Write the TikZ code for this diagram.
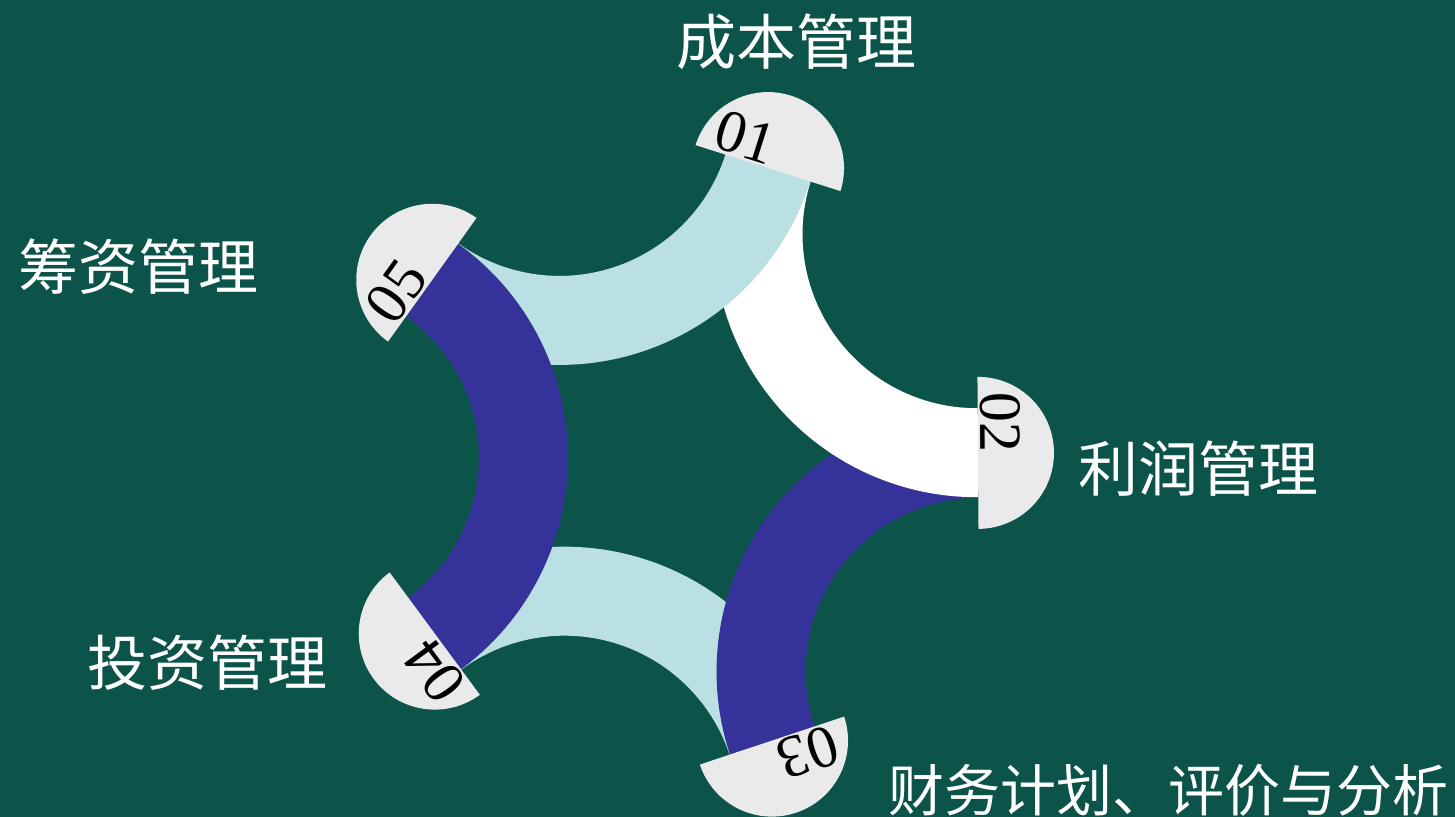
\documentclass[tikz,border=0pt]{standalone}
\usepackage{fontspec}
\setmainfont{Liberation Serif}
\newfontfamily\cjk{Noto Sans CJK SC}
\usetikzlibrary{calc}
\definecolor{bgc}{HTML}{0C5449}
\definecolor{lbc}{HTML}{BAE0E3}
\definecolor{dbc}{HTML}{35329A}
\definecolor{scc}{HTML}{EAEAEA}
\newcommand\myband[2]{%
  \fill[#2] ($(#1+\off:\D)+(#1+\off+126:\ro)$)
     arc[start angle={#1+\off+126}, end angle={#1+\off+234}, radius=\ro]
     -- ($(#1+\off:\D)+(#1+\off+234:\ri)$)
     arc[start angle={#1+\off+234}, end angle={#1+\off+126}, radius=\ri] -- cycle;}
\newcommand\myhalf[1]{%
  \fill[scc] ($(#1+\off:\R)+(#1+\off-90:\rs)$)
     arc[start angle={#1+\off-90}, end angle={#1+\off+90}, radius=\rs] -- cycle;}
\tikzset{
  numtxt/.style={inner sep=0pt, anchor=base east, text=black, font=\fontsize{30}{30}\selectfont},
  lbl/.style={inner sep=0pt, text=white, font=\cjk\fontsize{30}{30}\selectfont},
}
\begin{document}
\begin{tikzpicture}[x=0.5pt,y=0.5pt]
\def\R{301}\def\D{372.1}\def\ri{174}\def\ro{263}\def\rs{76}\def\off{0.4}
\fill[bgc] (-677,-362) rectangle (778,455);
\useasboundingbox (-677,-362) rectangle (778,455);
% bands, bottom to top
\myband{252}{lbc}
\myband{324}{dbc}
\myband{36}{white}
\myband{108}{lbc}
\myband{180}{dbc}
% half discs
\myhalf{0}\myhalf{72}\myhalf{144}\myhalf{216}\myhalf{288}
% numbers
\node[numtxt, rotate={0+\off-90}] (n02) at ({0+\off}:{\R+3}) {02};
\node[numtxt, rotate={72+\off-90}] (n01) at ({72+\off}:{\R+3}) {01};
\node[numtxt, rotate={144+\off-90}] (n05) at ({144+\off}:{\R+3}) {05};
\node[numtxt, rotate={216+\off-90}] (n04) at ({216+\off}:{\R+3}) {04};
\node[numtxt, rotate={288+\off-90}] (n03) at ({288+\off}:{\R+3}) {03};
% labels
\node[lbl] (l01) at (119,413) {成本管理};
\node[lbl] (l05) at (-538,188) {筹资管理};
\node[lbl] (l02) at (521,-14) {利润管理};
\node[lbl] (l04) at (-469,-208) {投资管理};
\node[lbl, font=\cjk\fontsize{28}{28}\selectfont] (l03) at (491,-335) {财务计划、评价与分析};
\end{tikzpicture}
\end{document}
